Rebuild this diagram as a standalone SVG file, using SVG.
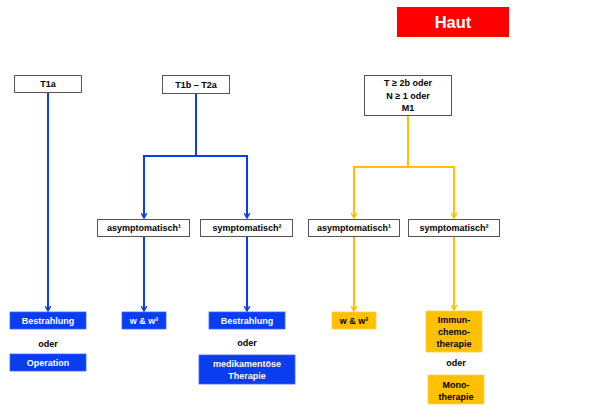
<svg xmlns="http://www.w3.org/2000/svg" width="600" height="418" viewBox="0 0 600 418">
<defs>
<style>
text{font-family:"Liberation Sans",Arial,sans-serif;font-weight:bold;font-size:9px;text-anchor:middle}
.box{fill:#fff;stroke:#555;stroke-width:1}
.bl{fill:#0a3cf0;stroke:#3a66ff;stroke-width:0.8}
.ye{fill:#ffc000;stroke:#ffd24d;stroke-width:0.8}
.wt{fill:#fff}
.bk{fill:#000}
.cb{fill:none;stroke:#0a3cf0;stroke-width:2}
.cy{fill:none;stroke:#ffc000;stroke-width:2}
</style>
<marker id="ab" viewBox="0 0 10 10" refX="8.5" refY="5" markerWidth="7" markerHeight="7" markerUnits="userSpaceOnUse" orient="auto">
<path d="M1.5,1 L8.5,5 L1.5,9" fill="none" stroke="#0a3cf0" stroke-width="2"/>
</marker>
<marker id="ay" viewBox="0 0 10 10" refX="8.5" refY="5" markerWidth="7" markerHeight="7" markerUnits="userSpaceOnUse" orient="auto">
<path d="M1.5,1 L8.5,5 L1.5,9" fill="none" stroke="#ffc000" stroke-width="2"/>
</marker>
</defs>
<rect width="600" height="418" fill="#fff"/>

<g id="haut">
<rect x="397" y="7" width="112" height="30" fill="#ff0000"/>
<text x="453" y="28" class="wt" style="font-size:16.5px">Haut</text>
</g>

<g id="connectors">
<path class="cb" d="M48,92 V311" marker-end="url(#ab)"/>
<path class="cb" d="M196,94 V156 H144 V218" marker-end="url(#ab)"/>
<path class="cb" d="M196,156 H247 V218" marker-end="url(#ab)"/>
<path class="cb" d="M144,237 V311" marker-end="url(#ab)"/>
<path class="cb" d="M247,237 V311" marker-end="url(#ab)"/>
<path class="cy" d="M408,116 V167 H354 V218" marker-end="url(#ay)"/>
<path class="cy" d="M408,167 H454 V218" marker-end="url(#ay)"/>
<path class="cy" d="M354,237 V311" marker-end="url(#ay)"/>
<path class="cy" d="M454,237 V310" marker-end="url(#ay)"/>
</g>

<g id="t1a">
<rect class="box" x="14.5" y="75.5" width="67" height="17"/>
<text x="48" y="87">T1a</text>
</g>
<g id="t1b">
<rect class="box" x="162.5" y="75.5" width="67" height="18"/>
<text x="196" y="87.5">T1b – T2a</text>
</g>
<g id="t2b">
<rect class="box" x="364.5" y="75.5" width="87" height="40"/>
<text x="408" y="86">T ≥ 2b oder</text>
<text x="408" y="98.5">N ≥ 1 oder</text>
<text x="408" y="111">M1</text>
</g>

<g id="asym1">
<rect class="box" x="97.5" y="219.5" width="92" height="17"/>
<text x="144" y="231">asymptomatisch¹</text>
</g>
<g id="sym1">
<rect class="box" x="200.5" y="219.5" width="92" height="17"/>
<text x="247" y="231">symptomatisch²</text>
</g>
<g id="asym2">
<rect class="box" x="308.5" y="219.5" width="91" height="17"/>
<text x="354" y="231">asymptomatisch¹</text>
</g>
<g id="sym2">
<rect class="box" x="408.5" y="219.5" width="91" height="17"/>
<text x="454" y="231">symptomatisch²</text>
</g>

<g id="bestr1">
<rect class="bl" x="10" y="312" width="76" height="17"/>
<text x="48" y="324" class="wt">Bestrahlung</text>
</g>
<g id="oder1"><text x="48" y="347" class="bk">oder</text></g>
<g id="oper">
<rect class="bl" x="10" y="354" width="76" height="17"/>
<text x="48" y="366" class="wt">Operation</text>
</g>

<g id="ww1">
<rect class="bl" x="122" y="312" width="44" height="17"/>
<text x="144" y="324" class="wt">w &amp; w³</text>
</g>

<g id="bestr2">
<rect class="bl" x="209" y="312" width="76" height="17"/>
<text x="247" y="324" class="wt">Bestrahlung</text>
</g>
<g id="oder2"><text x="247" y="346" class="bk">oder</text></g>
<g id="medi">
<rect class="bl" x="199" y="355" width="96" height="29"/>
<text x="247" y="367" class="wt">medikamentöse</text>
<text x="247" y="379" class="wt">Therapie</text>
</g>

<g id="ww2">
<rect class="ye" x="332" y="312" width="44" height="17"/>
<text x="354" y="324" class="bk">w &amp; w³</text>
</g>

<g id="immun">
<rect class="ye" x="426" y="311" width="56" height="41"/>
<text x="454" y="323" class="bk">Immun-</text>
<text x="454" y="335" class="bk">chemo-</text>
<text x="454" y="346.5" class="bk">therapie</text>
</g>
<g id="oder3"><text x="456" y="366" class="bk">oder</text></g>
<g id="mono">
<rect class="ye" x="428" y="375" width="56" height="29"/>
<text x="456" y="387.5" class="bk">Mono-</text>
<text x="456" y="399.5" class="bk">therapie</text>
</g>
</svg>
